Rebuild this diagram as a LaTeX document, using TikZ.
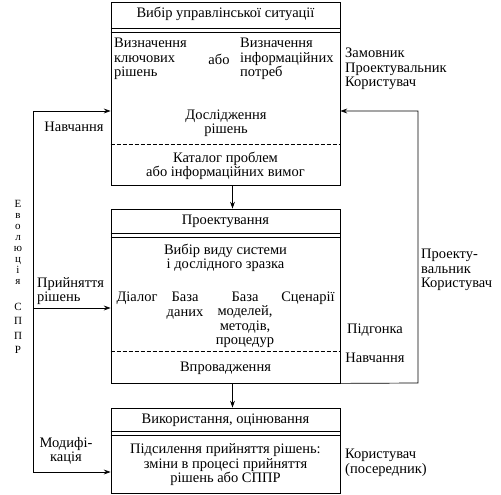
\documentclass[tikz,border=0pt]{standalone}
\usepackage{fontspec}
\setmainfont{Liberation Serif}
\usetikzlibrary{arrows.meta,positioning,calc}
\tikzset{
  >={Stealth[length=2.4mm,width=1.7mm]},
  % блоки
  blk/.style={draw,line width=0.8pt,minimum width=229pt,inner sep=0pt},
  sep/.style={line width=0.6pt},
  dsep/.style={line width=0.6pt,dash pattern=on 4pt off 2pt},
  flow/.style={->,line width=0.7pt},
  txt/.style={inner sep=0pt,align=center},
  txl/.style={inner sep=0pt,align=left},
}
\begin{document}
\begin{tikzpicture}[x=1pt,y=-1pt,font=\fontsize{14.5}{14.5}\selectfont]
  \useasboundingbox (0,0) rectangle (501,495);
  % блоки
  \node[blk,minimum height=183pt] (b1) at (225.5,93.5) {};
  \node[blk,minimum height=174pt] (b2) at (225.5,296) {};
  \node[blk,minimum height=85pt] (b3) at (225.5,450.5) {};
  \foreach \b/\p/\q in {b1/27/31,b2/25/29,b3/24/28}{
    \draw[sep] ([yshift=-\p pt]\b.north west) -- ([yshift=-\p pt]\b.north east);
    \draw[sep] ([yshift=-\q pt]\b.north west) -- ([yshift=-\q pt]\b.north east);
  }
  \draw[dsep] ([yshift=-143pt]b1.north west) -- ([yshift=-143pt]b1.north east);
  \draw[dsep] ([yshift=-143pt]b2.north west) -- ([yshift=-143pt]b2.north east);
  % тексти в блоках
  \node[txt] (vybir) at (225.5,14) {Вибір управлінської ситуації};
  \node[txl,anchor=west] (kluch) at (114,59) {Визначення\\ключових\\рішень};
  \node[txt] (abo) at (219,59) {або};
  \node[txl,anchor=west] (inform) at (240,59) {Визначення\\інформаційних\\потреб};
  \node[txt] (dosl) at (226,123) {Дослідження\\рішень};
  \node[txt] (kat) at (225.5,166) {Каталог проблем\\або інформаційних вимог};
  \node[txt] (proekt) at (225.5,221) {Проектування};
  \node[txt] (vyd) at (225.5,258) {Вибір виду системи\\і дослідного зразка};
  \node[txt] (dial) at (137,298) {Діалог};
  \node[txt] (bd) at (185,305.5) {База\\даних};
  \node[txt] (bm) at (245,320) {База\\моделей,\\методів,\\процедур};
  \node[txt] (scen) at (308,298) {Сценарії};
  \node[txt] (vpr) at (225.5,368) {Впровадження};
  \node[txt] (vyk) at (225.5,420) {Використання, оцінювання};
  \node[txt] (pids) at (225.5,465) {Підсилення прийняття рішень:\\зміни в процесі прийняття\\рішень або СППР};
  % підписи справа
  \node[txl,anchor=west] (zam) at (345,69) {Замовник\\Проектувальник\\Користувач};
  \node[txt] (pidg) at (375,330) {Підгонка};
  \node[txt] (navr) at (375,358) {Навчання};
  \node[txl,anchor=west] (prk) at (421,270) {Проекту-\\вальник\\Користувач};
  \node[txl,anchor=west] (kor) at (345,463) {Користувач\\(посередник)};
  % підписи зліва
  \node[txt] (navl) at (74,127) {Навчання};
  \node[txl,anchor=west] (pryin) at (37,291) {Прийняття\\рішень};
  \node[txt] (mod) at (66,451) {Модифі-\\кація};
  \node[txt,font=\fontsize{11}{11}\selectfont] (evol) at (18,277)
    {Е\\в\\о\\л\\ю\\ц\\і\\я\\[15pt]С\\[3.5pt]П\\[3.5pt]П\\[3.5pt]Р};
  % зв'язки
  \coordinate (l1) at (33,111);
  \coordinate (l2) at (33,308);
  \coordinate (l3) at (33,472);
  \coordinate (r1) at (418,111);
  \coordinate (r2) at (418,383);
  \draw[flow] ([xshift=7pt]b1.south) -- ([xshift=7pt]b2.north);
  \draw[flow] ([xshift=7pt]b2.south) -- ([xshift=7pt]b3.north);
  \draw[line width=0.7pt] (l1) -- (l3);
  \draw[flow] (l1) -- (l1 -| b1.west);
  \draw[flow] (l2) -- (l2 -| b2.west);
  \draw[flow] (l3) -- (l3 -| b3.west);
  \draw[flow] (b2.south east) -- (r2) -- (r1) -- (r1 -| b1.east);
\end{tikzpicture}
\end{document}
